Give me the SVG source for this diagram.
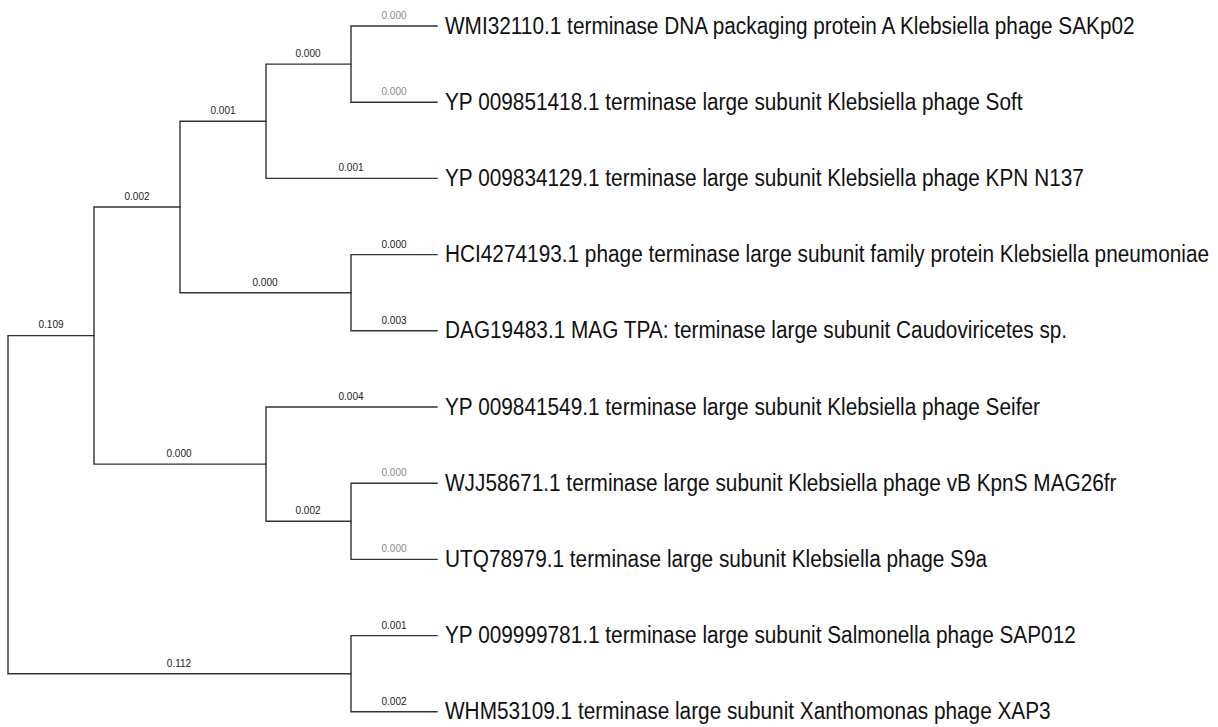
<svg xmlns="http://www.w3.org/2000/svg" width="1218" height="727" viewBox="0 0 1218 727">
<style>
.br{fill:none;stroke:#333;stroke-width:1.4;stroke-linecap:square}
.bl{font-family:"Liberation Sans",Arial,sans-serif;font-size:10px;fill:#222;text-anchor:middle}
.gl{fill:#8a8a8a}
.tx{font-family:"Liberation Sans",Arial,sans-serif;font-size:20.8px;fill:#111}
</style>
<rect width="1218" height="727" fill="#fff"/>
<g id="connectors">
<path class="br" d="M8,335.6V673.7M8,335.6H94M8,673.7H351"/>
<path class="br" d="M94,207V464.1M94,207H180M94,464.1H266"/>
<path class="br" d="M180,121.2V292.7M180,121.2H266M180,292.7H351"/>
<path class="br" d="M266,64.1V178.4M266,64.1H351M266,178.4H437"/>
<path class="br" d="M351,26V102.2M351,26H437M351,102.2H437"/>
<path class="br" d="M351,254.6V330.8M351,254.6H437M351,330.8H437"/>
<path class="br" d="M266,407V521.3M266,407H437M266,521.3H351"/>
<path class="br" d="M351,483.2V559.4M351,483.2H437M351,559.4H437"/>
<path class="br" d="M351,635.6V711.8M351,635.6H437M351,711.8H437"/>
</g>
<g id="branch-labels">
<text class="bl" x="51" y="328">0.109</text>
<text class="bl" x="179" y="666.5">0.112</text>
<text class="bl" x="137" y="199.5">0.002</text>
<text class="bl" x="179" y="456.5">0.000</text>
<text class="bl" x="223" y="114">0.001</text>
<text class="bl" x="265" y="285.5">0.000</text>
<text class="bl" x="308" y="57">0.000</text>
<text class="bl" x="351" y="171">0.001</text>
<text class="bl" x="351" y="399.5">0.004</text>
<text class="bl" x="308" y="514">0.002</text>
<text class="bl gl" x="394" y="19">0.000</text>
<text class="bl gl" x="394" y="95">0.000</text>
<text class="bl" x="394" y="247.5">0.000</text>
<text class="bl" x="394" y="323.5">0.003</text>
<text class="bl gl" x="394" y="476">0.000</text>
<text class="bl gl" x="394" y="552">0.000</text>
<text class="bl" x="394" y="628.5">0.001</text>
<text class="bl" x="394" y="704.5">0.002</text>
</g>
<g id="leaf1"><text class="tx" transform="translate(445,33.5) scale(1,1.15)">WMI32110.1 terminase DNA packaging protein A Klebsiella phage SAKp02</text></g>
<g id="leaf2"><text class="tx" transform="translate(445,109.7) scale(1,1.15)">YP 009851418.1 terminase large subunit Klebsiella phage Soft</text></g>
<g id="leaf3"><text class="tx" transform="translate(445,185.9) scale(1,1.15)">YP 009834129.1 terminase large subunit Klebsiella phage KPN N137</text></g>
<g id="leaf4"><text class="tx" transform="translate(445,262.1) scale(1,1.15)">HCI4274193.1 phage terminase large subunit family protein Klebsiella pneumoniae</text></g>
<g id="leaf5"><text class="tx" transform="translate(445,338.3) scale(1,1.15)">DAG19483.1 MAG TPA: terminase large subunit Caudoviricetes sp.</text></g>
<g id="leaf6"><text class="tx" transform="translate(445,414.5) scale(1,1.15)">YP 009841549.1 terminase large subunit Klebsiella phage Seifer</text></g>
<g id="leaf7"><text class="tx" transform="translate(445,490.7) scale(1,1.15)">WJJ58671.1 terminase large subunit Klebsiella phage vB KpnS MAG26fr</text></g>
<g id="leaf8"><text class="tx" transform="translate(445,566.9) scale(1,1.15)">UTQ78979.1 terminase large subunit Klebsiella phage S9a</text></g>
<g id="leaf9"><text class="tx" transform="translate(445,643.1) scale(1,1.15)">YP 009999781.1 terminase large subunit Salmonella phage SAP012</text></g>
<g id="leaf10"><text class="tx" transform="translate(445,719.3) scale(1,1.15)">WHM53109.1 terminase large subunit Xanthomonas phage XAP3</text></g>
</svg>
